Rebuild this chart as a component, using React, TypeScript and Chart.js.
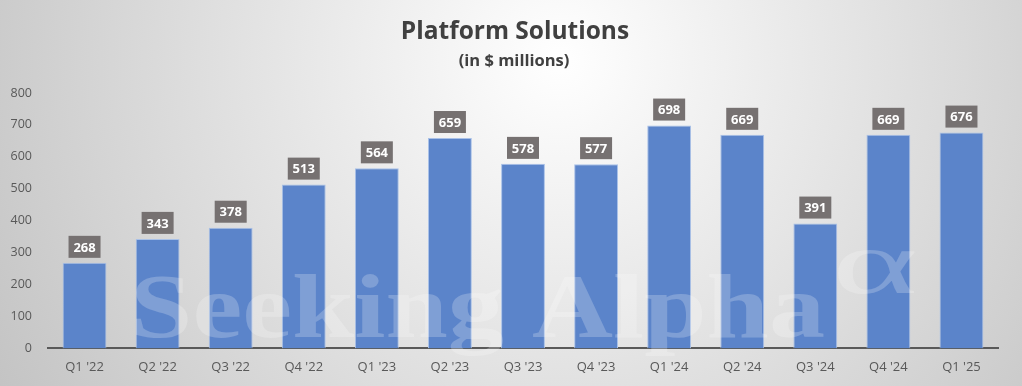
import React, { useEffect, useRef } from "react";
import { Chart, registerables } from "chart.js";

Chart.register(...registerables);

const categories = ["Q1 '22", "Q2 '22", "Q3 '22", "Q4 '22", "Q1 '23", "Q2 '23", "Q3 '23", "Q4 '23", "Q1 '24", "Q2 '24", "Q3 '24", "Q4 '24", "Q1 '25"];
const revenue = [268, 343, 378, 513, 564, 659, 578, 577, 698, 669, 391, 669, 676];
const titleText = "Platform Solutions";
const subtitleText = "(in $ millions)";
const watermarkText = "Seeking Alpha";

const FONT = "'Open Sans', Lato, sans-serif";

const bgPlugin = {
  id: "bg",
  beforeDraw(chart: any) {
    const { ctx, width, height } = chart;
    ctx.save();
    const g = ctx.createRadialGradient(560, 60, 0, 560, 60, 700);
    g.addColorStop(0, "#ffffff");
    g.addColorStop(1, "#bfbfbf");
    ctx.fillStyle = g;
    ctx.fillRect(0, 0, width, height);
    ctx.fillStyle = "#404040";
    ctx.textAlign = "center";
    ctx.textBaseline = "alphabetic";
    ctx.font = `bold 24.5px ${FONT}`;
    ctx.fillText(titleText, 515, 39);
    ctx.font = `bold 16.5px ${FONT}`;
    ctx.fillText(subtitleText, 514, 66);
    ctx.restore();
  },
};

const overlayPlugin = {
  id: "overlay",
  afterDatasetsDraw(chart: any) {
    const { ctx } = chart;
    ctx.save();
    // watermark
    ctx.fillStyle = "rgba(255,255,255,0.22)";
    ctx.font = `bold 90px 'Liberation Serif', serif`;
    ctx.textAlign = "left";
    ctx.textBaseline = "alphabetic";
    const w = ctx.measureText(watermarkText).width;
    ctx.save();
    ctx.translate(130, 337);
    ctx.scale(695 / w, 1);
    ctx.fillText(watermarkText, 0, 0);
    ctx.restore();
    ctx.font = `92px 'Liberation Serif', serif`;
    const aw = ctx.measureText("\u03b1").width;
    ctx.save();
    ctx.translate(832, 293);
    ctx.scale(86 / aw, 1);
    ctx.fillText("\u03b1", 0, 0);
    ctx.restore();
    // labels
    const meta = chart.getDatasetMeta(0);
    ctx.font = `bold 13px ${FONT}`;
    ctx.textAlign = "center";
    ctx.textBaseline = "middle";
    meta.data.forEach((bar: any, i: number) => {
      const v = revenue[i];
      const bw = 32, bh = 22;
      const x = bar.x;
      const yb = bar.y - 5;
      ctx.fillStyle = "#767171";
      ctx.fillRect(x - bw / 2, yb - bh, bw, bh);
      ctx.fillStyle = "#ffffff";
      ctx.fillText(String(v), x, yb - bh / 2 + 1);
    });
    ctx.restore();
  },
};

export default function App() {
  const ref = useRef<HTMLCanvasElement>(null);
  useEffect(() => {
    const chart = new Chart(ref.current!, {
      type: "bar",
      data: {
        labels: categories,
        datasets: [
          {
            data: revenue,
            backgroundColor: "#5b84ca",
            borderColor: "#a9c1e8",
            borderWidth: 1,
            barPercentage: 0.6,
            categoryPercentage: 1,
          },
        ],
      },
      options: {
        animation: false,
        responsive: false,
        maintainAspectRatio: false,
        layout: { padding: { left: 0, right: 24, top: 93, bottom: 8 } },
        plugins: { legend: { display: false }, tooltip: { enabled: false }, title: { display: false } },
        scales: {
          x: {
            grid: { display: false },
            border: { display: true, color: "#595959", width: 2 },
            ticks: { color: "#595959", font: { family: FONT, size: 13 }, padding: 3 },
          },
          y: {
            min: 0,
            max: 800,
            afterFit(scale: any) { scale.width = 48; },
            grid: { display: false },
            border: { display: false },
            ticks: { stepSize: 100, color: "#595959", font: { family: FONT, size: 12.5 }, padding: 8 },
          },
        },
      },
      plugins: [bgPlugin, overlayPlugin],
    });
    return () => chart.destroy();
  }, []);
  return (
    <div style={{ position: "fixed", left: 0, top: 0, width: 1022, height: 386 }}>
      <canvas ref={ref} width={1022} height={386} style={{ display: "block" }} />
    </div>
  );
}
